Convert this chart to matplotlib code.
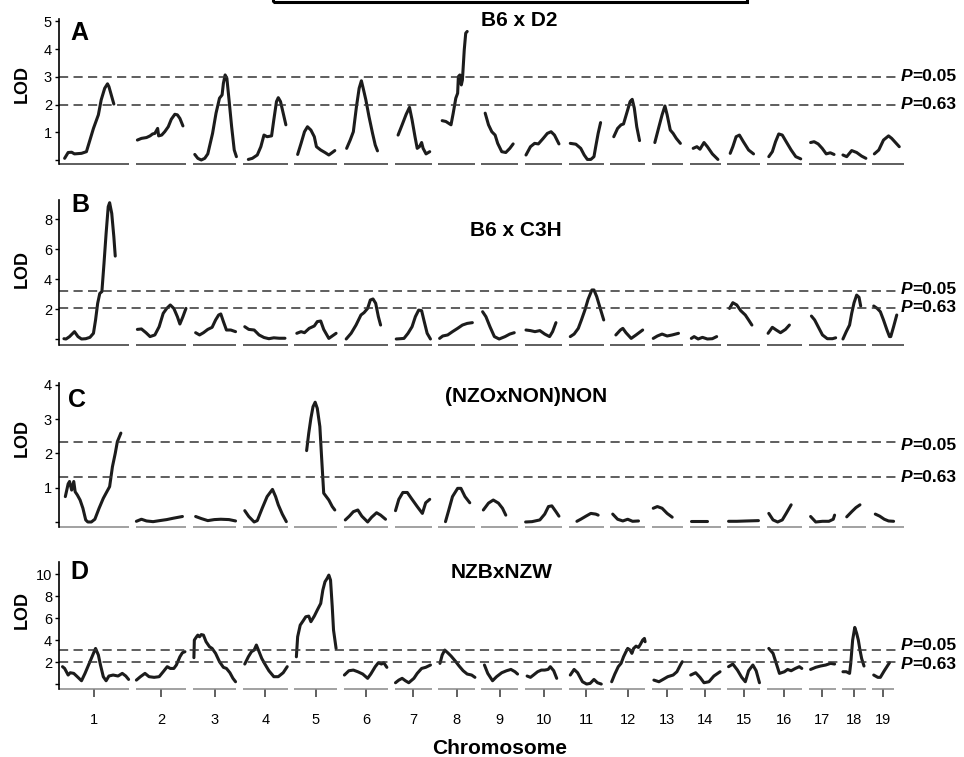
import matplotlib.pyplot as plt
from matplotlib.patches import Rectangle
import numpy as np

plt.rcParams['font.family'] = ['Liberation Sans', 'DejaVu Sans']

# Chromosomes and map lengths (plot units)
chromosomes = [str(i) for i in range(1, 20)]
chrom_len = [107, 77, 66, 68, 65, 68, 56, 56, 56, 57, 53, 53, 48, 47, 50, 54, 41, 36, 48]
gap = 10

panels = ['A', 'B', 'C', 'D']
crosses = ['B6 x D2', 'B6 x C3H', '(NZOxNON)NON', 'NZBxNZW']
thresholds = [(3.0, 2.0), (3.2, 2.1), (2.33, 1.31), (3.1, 2.05)]
p_values = ['0.05', '0.63']

# LOD curves: relative position along each chromosome (0-1) and LOD score
pos_A = [
    [0.08, 0.13, 0.18, 0.22, 0.32, 0.39, 0.44, 0.49, 0.56, 0.60, 0.65, 0.69, 0.71, 0.75, 0.78],
    [0.03, 0.11, 0.21, 0.28, 0.33, 0.375, 0.43, 0.45, 0.51, 0.57, 0.64, 0.70, 0.77, 0.82, 0.87, 0.93],
    [0.04, 0.11, 0.19, 0.27, 0.34, 0.45, 0.53, 0.61, 0.67, 0.70, 0.74, 0.78, 0.83, 0.89, 0.95, 1.0],
    [0.12, 0.21, 0.32, 0.40, 0.47, 0.54, 0.64, 0.69, 0.75, 0.79, 0.84, 0.90, 0.96],
    [0.08, 0.16, 0.24, 0.31, 0.39, 0.47, 0.52, 0.62, 0.72, 0.81, 0.89, 0.95],
    [0.07, 0.15, 0.22, 0.29, 0.35, 0.40, 0.44, 0.50, 0.57, 0.65, 0.71, 0.76],
    [0.09, 0.20, 0.31, 0.40, 0.47, 0.55, 0.61, 0.67, 0.73, 0.77, 0.85, 0.95],
    [0.11, 0.21, 0.35, 0.41, 0.48, 0.53, 0.55, 0.59, 0.63, 0.66, 0.71, 0.75, 0.79],
    [0.10, 0.19, 0.28, 0.37, 0.44, 0.55, 0.66, 0.77, 0.86],
    [0.03, 0.15, 0.26, 0.36, 0.49, 0.60, 0.70, 0.79, 0.91],
    [0.04, 0.20, 0.34, 0.44, 0.53, 0.63, 0.72, 0.77, 0.84, 0.91],
    [0.10, 0.21, 0.31, 0.38, 0.50, 0.57, 0.63, 0.69, 0.76, 0.84],
    [0.10, 0.23, 0.33, 0.42, 0.49, 0.59, 0.68, 0.78, 0.91],
    [0.11, 0.23, 0.33, 0.46, 0.57, 0.73, 0.91],
    [0.09, 0.17, 0.27, 0.37, 0.49, 0.65, 0.80],
    [0.06, 0.16, 0.25, 0.34, 0.44, 0.55, 0.69, 0.82, 0.96],
    [0.07, 0.20, 0.35, 0.50, 0.65, 0.80, 0.94],
    [0.03, 0.19, 0.40, 0.61, 0.82, 1.0],
    [0.06, 0.20, 0.35, 0.51, 0.61, 0.85],
]
lod_A = [
    [0.06, 0.27, 0.28, 0.22, 0.24, 0.30, 0.72, 1.14, 1.63, 2.17, 2.59, 2.75, 2.65, 2.29, 2.02],
    [0.72, 0.78, 0.81, 0.87, 0.94, 0.96, 1.14, 0.87, 0.90, 1.02, 1.20, 1.47, 1.65, 1.63, 1.50, 1.23],
    [0.20, 0.06, 0.0, 0.06, 0.22, 0.96, 1.69, 2.23, 2.35, 2.77, 3.07, 2.95, 2.17, 1.20, 0.36, 0.12],
    [0.02, 0.06, 0.18, 0.48, 0.90, 0.84, 0.87, 1.45, 2.11, 2.25, 2.11, 1.69, 1.27],
    [0.20, 0.60, 1.02, 1.20, 1.08, 0.84, 0.48, 0.36, 0.27, 0.18, 0.27, 0.34],
    [0.42, 0.72, 1.02, 1.93, 2.59, 2.86, 2.59, 2.17, 1.57, 0.96, 0.54, 0.33],
    [0.90, 1.27, 1.65, 1.90, 1.45, 0.84, 0.42, 0.48, 0.63, 0.42, 0.22, 0.30],
    [1.42, 1.39, 1.27, 1.69, 2.23, 2.41, 3.01, 3.07, 2.71, 2.89, 3.98, 4.58, 4.64],
    [1.69, 1.27, 1.02, 0.90, 0.60, 0.30, 0.27, 0.42, 0.58],
    [0.18, 0.48, 0.60, 0.58, 0.78, 0.96, 1.02, 0.90, 0.58],
    [0.60, 0.57, 0.42, 0.18, 0.02, 0.02, 0.12, 0.48, 0.96, 1.35],
    [0.84, 1.14, 1.27, 1.30, 1.81, 2.11, 2.19, 1.87, 1.20, 0.70],
    [0.63, 1.20, 1.63, 1.95, 1.63, 1.08, 0.96, 0.78, 0.60],
    [0.42, 0.48, 0.39, 0.63, 0.48, 0.22, 0.02],
    [0.24, 0.48, 0.84, 0.90, 0.66, 0.36, 0.22],
    [0.12, 0.30, 0.66, 0.94, 0.90, 0.66, 0.36, 0.12, 0.04],
    [0.63, 0.66, 0.58, 0.42, 0.22, 0.26, 0.20],
    [0.18, 0.12, 0.34, 0.27, 0.14, 0.06],
    [0.22, 0.36, 0.72, 0.87, 0.78, 0.48],
]

pos_B = [
    [0.07, 0.10, 0.15, 0.22, 0.27, 0.32, 0.38, 0.44, 0.49, 0.52, 0.55, 0.58, 0.61, 0.64, 0.67, 0.70, 0.72, 0.75, 0.78, 0.80],
    [0.03, 0.11, 0.20, 0.28, 0.375, 0.46, 0.54, 0.61, 0.68, 0.75, 0.82, 0.87, 0.93, 0.99],
    [0.06, 0.15, 0.24, 0.34, 0.44, 0.52, 0.59, 0.64, 0.70, 0.77, 0.87, 0.98],
    [0.04, 0.13, 0.25, 0.36, 0.47, 0.58, 0.69, 0.81, 0.94],
    [0.06, 0.16, 0.24, 0.35, 0.47, 0.54, 0.62, 0.69, 0.81, 0.89, 0.98],
    [0.06, 0.17, 0.28, 0.39, 0.46, 0.54, 0.60, 0.66, 0.72, 0.78, 0.83],
    [0.04, 0.15, 0.25, 0.36, 0.47, 0.56, 0.65, 0.73, 0.79, 0.88, 0.97],
    [0.04, 0.125, 0.26, 0.39, 0.53, 0.66, 0.79, 0.93],
    [0.03, 0.12, 0.23, 0.35, 0.48, 0.64, 0.77, 0.89],
    [0.03, 0.15, 0.27, 0.40, 0.53, 0.66, 0.74, 0.83],
    [0.04, 0.15, 0.27, 0.36, 0.46, 0.55, 0.66, 0.72, 0.80, 0.90, 1.0],
    [0.16, 0.29, 0.36, 0.45, 0.60, 0.74, 0.93],
    [0.05, 0.18, 0.33, 0.49, 0.65, 0.85],
    [0.05, 0.14, 0.27, 0.41, 0.57, 0.73, 0.87],
    [0.07, 0.17, 0.29, 0.41, 0.55, 0.65, 0.75],
    [0.04, 0.16, 0.27, 0.39, 0.53, 0.64],
    [0.10, 0.22, 0.35, 0.51, 0.69, 0.88, 1.0],
    [0.03, 0.17, 0.31, 0.40, 0.50, 0.61, 0.71, 0.78],
    [0.04, 0.15, 0.25, 0.35, 0.46, 0.54, 0.58, 0.67, 0.77],
]
lod_B = [
    [0.02, 0.0, 0.16, 0.49, 0.16, 0.0, 0.02, 0.11, 0.38, 1.27, 2.38, 3.04, 3.16, 5.04, 7.04, 8.82, 9.09, 8.38, 6.82, 5.53],
    [0.64, 0.67, 0.42, 0.16, 0.27, 0.82, 1.71, 2.04, 2.27, 2.04, 1.49, 1.00, 1.49, 2.04],
    [0.42, 0.27, 0.42, 0.64, 0.78, 1.27, 1.60, 1.67, 1.16, 0.60, 0.60, 0.49],
    [0.82, 0.64, 0.60, 0.27, 0.10, 0.02, 0.08, 0.05, 0.05],
    [0.38, 0.49, 0.42, 0.71, 0.87, 1.16, 1.20, 0.64, 0.04, 0.20, 0.38],
    [0.0, 0.38, 0.93, 1.60, 1.76, 2.04, 2.60, 2.67, 2.38, 1.49, 0.93],
    [0.0, 0.02, 0.04, 0.38, 0.82, 1.49, 1.93, 1.89, 1.27, 0.38, 0.0],
    [0.04, 0.20, 0.27, 0.49, 0.71, 0.93, 1.04, 1.09],
    [1.82, 1.49, 0.82, 0.16, 0.0, 0.16, 0.33, 0.42],
    [0.60, 0.56, 0.49, 0.56, 0.33, 0.16, 0.49, 1.09],
    [0.16, 0.33, 0.71, 1.27, 1.93, 2.64, 3.27, 3.27, 2.82, 2.04, 1.27],
    [0.27, 0.60, 0.71, 0.42, 0.04, 0.27, 0.60],
    [0.04, 0.20, 0.33, 0.20, 0.27, 0.38],
    [0.04, 0.16, 0.0, 0.11, 0.0, 0.02, 0.16],
    [2.04, 2.42, 2.27, 1.89, 1.60, 1.27, 0.93],
    [0.38, 0.78, 0.60, 0.42, 0.64, 0.93],
    [1.53, 1.27, 0.82, 0.27, 0.02, 0.02, 0.08],
    [0.0, 0.49, 0.93, 1.71, 2.42, 2.93, 2.78, 2.20],
    [2.20, 2.04, 1.82, 1.27, 0.60, 0.16, 0.16, 0.82, 1.60],
]

pos_C = [
    [0.09, 0.13, 0.15, 0.18, 0.21, 0.23, 0.26, 0.30, 0.34, 0.38, 0.41, 0.46, 0.51, 0.57, 0.63, 0.68, 0.72, 0.76, 0.80, 0.83, 0.88],
    [0.01, 0.11, 0.21, 0.34, 0.47, 0.61, 0.74, 0.92],
    [0.06, 0.19, 0.34, 0.49, 0.64, 0.83, 0.98],
    [0.04, 0.13, 0.25, 0.32, 0.43, 0.54, 0.66, 0.73, 0.79, 0.88, 0.97],
    [0.29, 0.34, 0.39, 0.44, 0.49, 0.54, 0.60, 0.64, 0.69, 0.75, 0.81, 0.89, 0.95],
    [0.04, 0.13, 0.22, 0.32, 0.41, 0.54, 0.63, 0.74, 0.83, 0.94],
    [0.02, 0.11, 0.22, 0.34, 0.45, 0.61, 0.75, 0.84, 0.95],
    [0.20, 0.29, 0.39, 0.53, 0.62, 0.73, 0.86],
    [0.05, 0.19, 0.32, 0.46, 0.57, 0.66],
    [0.02, 0.19, 0.40, 0.53, 0.63, 0.72, 0.83, 0.91],
    [0.23, 0.34, 0.49, 0.63, 0.77, 0.84],
    [0.07, 0.21, 0.36, 0.50, 0.64, 0.81],
    [0.05, 0.18, 0.33, 0.49, 0.65],
    [0.05, 0.25, 0.40, 0.57],
    [0.04, 0.29, 0.60, 0.95],
    [0.06, 0.18, 0.31, 0.44, 0.55, 0.69],
    [0.07, 0.26, 0.51, 0.75, 0.91, 0.96],
    [0.19, 0.40, 0.58, 0.75],
    [0.09, 0.23, 0.375, 0.51, 0.67],
]
lod_C = [
    [0.74, 1.11, 1.18, 0.93, 1.18, 0.88, 0.79, 0.64, 0.40, 0.06, 0.0, 0.0, 0.08, 0.40, 0.69, 0.88, 1.03, 1.61, 2.00, 2.34, 2.59],
    [0.02, 0.08, 0.03, 0.01, 0.04, 0.07, 0.11, 0.16],
    [0.16, 0.10, 0.04, 0.07, 0.08, 0.07, 0.03],
    [0.33, 0.16, 0.0, 0.04, 0.40, 0.74, 0.95, 0.74, 0.50, 0.23, 0.01],
    [2.08, 2.59, 3.02, 3.36, 3.49, 3.31, 2.78, 1.90, 0.84, 0.74, 0.64, 0.45, 0.35],
    [0.06, 0.17, 0.30, 0.35, 0.17, 0.0, 0.14, 0.27, 0.20, 0.08],
    [0.33, 0.66, 0.86, 0.86, 0.69, 0.45, 0.25, 0.56, 0.66],
    [0.01, 0.35, 0.74, 0.98, 0.98, 0.74, 0.56],
    [0.35, 0.55, 0.64, 0.55, 0.40, 0.20],
    [0.0, 0.01, 0.06, 0.23, 0.45, 0.47, 0.30, 0.17],
    [0.02, 0.08, 0.17, 0.25, 0.23, 0.20],
    [0.23, 0.08, 0.03, 0.08, 0.02, 0.03],
    [0.40, 0.45, 0.40, 0.25, 0.14],
    [0.03, 0.03, 0.03, 0.03],
    [0.02, 0.02, 0.03, 0.04],
    [0.25, 0.06, 0.0, 0.06, 0.25, 0.50],
    [0.16, 0.0, 0.02, 0.02, 0.08, 0.20],
    [0.15, 0.30, 0.42, 0.50],
    [0.23, 0.17, 0.08, 0.03, 0.02],
]

pos_D = [
    [0.05, 0.08, 0.13, 0.16, 0.21, 0.26, 0.32, 0.37, 0.43, 0.49, 0.52, 0.56, 0.59, 0.63, 0.67, 0.71, 0.77, 0.84, 0.90, 0.95, 0.99],
    [0.01, 0.09, 0.18, 0.26, 0.36, 0.46, 0.54, 0.62, 0.68, 0.75, 0.80, 0.87, 0.92, 0.97],
    [0.02, 0.03, 0.08, 0.11, 0.15, 0.19, 0.24, 0.30, 0.38, 0.44, 0.52, 0.61, 0.70, 0.77, 0.85, 0.92, 0.98],
    [0.04, 0.12, 0.19, 0.25, 0.30, 0.36, 0.42, 0.49, 0.58, 0.69, 0.79, 0.90, 0.99],
    [0.05, 0.08, 0.14, 0.21, 0.27, 0.34, 0.39, 0.47, 0.54, 0.62, 0.67, 0.72, 0.77, 0.81, 0.85, 0.89, 0.92, 0.98],
    [0.02, 0.12, 0.22, 0.32, 0.43, 0.54, 0.61, 0.71, 0.78, 0.85, 0.90, 0.97],
    [0.02, 0.11, 0.20, 0.29, 0.38, 0.52, 0.61, 0.73, 0.84, 0.97],
    [0.05, 0.11, 0.18, 0.26, 0.35, 0.46, 0.57, 0.68, 0.79, 0.91, 1.0],
    [0.08, 0.17, 0.30, 0.41, 0.55, 0.68, 0.80, 0.91, 0.98],
    [0.06, 0.15, 0.23, 0.34, 0.44, 0.53, 0.62, 0.68, 0.77, 0.85],
    [0.04, 0.15, 0.25, 0.39, 0.51, 0.61, 0.72, 0.82, 0.93],
    [0.04, 0.13, 0.23, 0.31, 0.38, 0.45, 0.50, 0.57, 0.62, 0.67, 0.74, 0.81, 0.87, 0.93, 0.98, 1.0],
    [0.07, 0.23, 0.36, 0.51, 0.68, 0.80, 0.91, 0.97],
    [0.03, 0.19, 0.33, 0.46, 0.62, 0.78, 0.98],
    [0.04, 0.17, 0.31, 0.44, 0.55, 0.65, 0.78, 0.88, 0.98],
    [0.06, 0.18, 0.27, 0.36, 0.50, 0.59, 0.69, 0.81, 0.92, 0.99],
    [0.07, 0.26, 0.44, 0.63, 0.81, 0.96],
    [0.03, 0.17, 0.31, 0.36, 0.44, 0.53, 0.61, 0.68, 0.75, 0.82, 0.92],
    [0.04, 0.17, 0.25, 0.375, 0.54],
]
lod_D = [
    [1.58, 1.42, 0.82, 1.03, 0.97, 0.67, 0.30, 0.97, 1.88, 2.79, 3.24, 2.64, 1.73, 0.67, 0.30, 0.73, 0.82, 0.73, 0.97, 0.73, 0.42],
    [0.36, 0.67, 0.97, 0.67, 0.61, 0.67, 1.12, 1.58, 1.42, 1.42, 1.73, 2.48, 2.85, 2.94],
    [2.40, 4.00, 4.30, 4.45, 4.30, 4.50, 4.45, 3.85, 3.39, 3.24, 2.79, 2.03, 1.52, 1.42, 1.03, 0.52, 0.21],
    [1.82, 2.48, 2.94, 3.09, 3.55, 2.94, 2.33, 1.82, 1.21, 0.67, 0.67, 1.03, 1.58],
    [2.48, 4.30, 5.36, 5.76, 6.12, 6.18, 5.67, 6.18, 6.73, 7.33, 8.55, 9.30, 9.61, 9.91, 9.45, 7.03, 4.91, 3.24],
    [0.82, 1.21, 1.27, 1.12, 0.91, 0.52, 0.91, 1.58, 1.94, 1.82, 1.94, 1.52],
    [0.12, 0.36, 0.52, 0.30, 0.12, 0.52, 0.97, 1.42, 1.52, 1.73],
    [1.88, 2.64, 3.09, 2.85, 2.55, 2.12, 1.64, 1.21, 0.91, 0.82, 0.61],
    [1.73, 0.97, 0.30, 0.67, 1.03, 1.21, 1.33, 1.12, 0.91],
    [0.73, 0.61, 0.82, 1.12, 1.27, 1.27, 1.33, 1.58, 1.21, 0.52],
    [0.82, 1.33, 1.03, 0.21, 0.0, 0.06, 0.42, 0.12, 0.0],
    [0.21, 0.91, 1.58, 1.88, 2.48, 2.94, 3.24, 3.09, 2.79, 3.24, 3.45, 3.33, 3.64, 4.00, 4.15, 3.85],
    [0.36, 0.21, 0.42, 0.67, 0.82, 1.12, 1.73, 2.03],
    [0.82, 1.03, 0.61, 0.12, 0.21, 0.73, 1.12],
    [1.58, 1.82, 1.27, 0.61, 0.21, 1.21, 1.73, 1.21, 0.12],
    [3.24, 2.79, 1.88, 0.97, 1.12, 1.33, 1.21, 1.42, 1.58, 1.42],
    [1.33, 1.52, 1.64, 1.73, 1.88, 1.82],
    [1.12, 1.12, 0.97, 1.88, 4.00, 5.15, 4.61, 4.00, 3.09, 2.33, 1.64],
    [0.82, 0.61, 0.61, 1.21, 1.94],
]

positions = [pos_A, pos_B, pos_C, pos_D]
lods = [lod_A, lod_B, lod_C, lod_D]

# ---- layout (pixels) ----
W, H = 964, 757
ax_left, ax_right = 59, 897
# top px, bottom px, ymin, ymax, yticks
boxes = [(19, 164, -0.145, 5.09, [0, 1, 2, 3, 4, 5]),
         (200, 345, -0.40, 9.27, [0, 2, 4, 6, 8]),
         (383, 527, -0.146, 4.05, [0, 1, 2, 3, 4]),
         (562, 689, -0.45, 11.1, [0, 2, 4, 6, 8, 10])]
letter_xy = [(70, 33), (71, 205), (68, 400), (70, 572)]
title_xy = [(519, 20), (516, 230), (526, 396), (502, 573)]
lod_label_y = [84, 269, 438, 610]
label_dy = [(0, 0), (2, 0), (-3, 0), (4, -3)]
base_colors = ['#333333', '#333333', '#888888', '#888888']

starts = np.concatenate([[0], np.cumsum(np.array(chrom_len) + gap)[:-1]])
xmax = (ax_right - ax_left) / ((ax_right - ax_left + 7) / (starts[-1] + chrom_len[-1]))

fig = plt.figure(figsize=(W / 100, H / 100), dpi=100)

for k, (top, bot, ymin, ymax, yt) in enumerate(boxes):
    ax = fig.add_axes([ax_left / W, 1 - bot / H, (ax_right - ax_left) / W, (bot - top) / H])
    ax.set_xlim(0, xmax)
    ax.set_ylim(ymin, ymax)
    for s in ['top', 'right', 'bottom']:
        ax.spines[s].set_visible(False)
    ax.spines['left'].set_linewidth(1.2)
    ax.set_yticks(yt)
    ax.set_yticklabels([''] + [str(v) for v in yt[1:]])
    ax.tick_params(axis='y', length=3, width=1, pad=2, labelsize=10.5)

    # chromosome baselines
    centers = []
    for i, (st, ln) in enumerate(zip(starts, chrom_len)):
        end = st + ln
        if k == 3 and i == 18:
            end = st + ln * 0.67
        ax.plot([st, end], [ymin, ymin], color=base_colors[k], lw=1.1,
                clip_on=False, solid_capstyle='butt')
        centers.append((st + end) / 2)

    if k == 3:
        ax.set_xticks(centers)
        ax.set_xticklabels(chromosomes)
        ax.tick_params(axis='x', length=6, width=1.2, pad=11, labelsize=10.5, color='#444444')
    else:
        ax.set_xticks([])

    # LOD curves
    for i in range(19):
        xs = starts[i] + np.array(positions[k][i]) * chrom_len[i]
        ax.plot(xs, lods[k][i], color='#1c1c1c', lw=2.2, clip_on=False,
                solid_joinstyle='round', solid_capstyle='round')

    # significance thresholds
    for j, thr in enumerate(thresholds[k]):
        ax.axhline(thr, color='#333333', lw=1.1, dashes=(6, 3.5))
        t1 = ax.annotate('P', xy=(1.004, thr), xycoords=('axes fraction', 'data'),
                         xytext=(0, label_dy[k][j]), textcoords='offset pixels',
                         ha='left', va='center', fontsize=12.5, fontweight='bold',
                         fontstyle='italic', annotation_clip=False)
        ax.annotate('=' + p_values[j], xy=(1, 0.5), xycoords=t1, ha='left', va='center',
                    fontsize=12.5, fontweight='bold', annotation_clip=False)

    fig.text(letter_xy[k][0] / W, 1 - letter_xy[k][1] / H, panels[k],
             fontsize=18, fontweight='bold', ha='left', va='center')
    fig.text(title_xy[k][0] / W, 1 - title_xy[k][1] / H, crosses[k],
             fontsize=15, fontweight='bold', ha='center', va='center')
    fig.text(22 / W, 1 - lod_label_y[k] / H, 'LOD', rotation=90,
             fontsize=13, fontweight='bold', ha='center', va='center')

fig.text(500 / W, 1 - 748 / H, 'Chromosome', fontsize=15, fontweight='bold',
         ha='center', va='center')

# frame at the top edge
fig.add_artist(Rectangle((273 / W, 1 - 2 / H), (747 - 273) / W, 0.1,
                         transform=fig.transFigure, fill=False, lw=2.2,
                         edgecolor='black', clip_on=False))

fig.savefig('out.png', dpi=100)
